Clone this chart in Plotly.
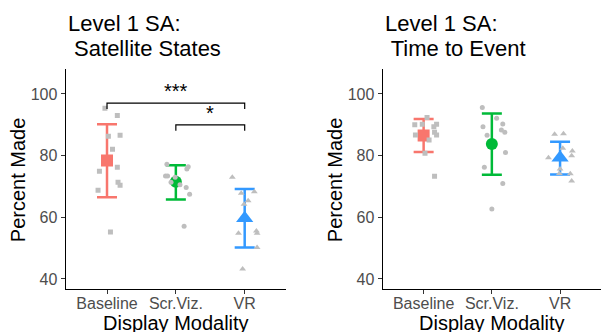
import plotly.graph_objects as go

categories = ["Baseline", "Scr.Viz.", "VR"]
colors = ["#F8766D", "#00BA38", "#3399FF"]
symbols = ["square", "circle", "triangle-up"]
y_ticks = [40, 60, 80, 100]

# Panel 1: Satellite States -- individual participant values and jitter offsets
ss_baseline = [95.4, 93.0, 86.3, 86.6, 82.1, 74.9, 76.2, 71.4, 70.4, 68.8, 55.2]
ss_baseline_jit = [-0.03, 0.15, 0.02, 0.19, 0.08, -0.11, 0.15, 0.16, 0.19, -0.13, 0.05]
ss_scrviz = [77.2, 76.4, 75.7, 73.4, 73.4, 73.0, 71.4, 70.6, 69.7, 67.5, 57.1]
ss_scrviz_jit = [-0.13, 0.18, 0.16, -0.15, -0.12, -0.01, -0.07, 0.06, 0.15, 0.20, 0.12]
ss_vr = [73.0, 67.8, 68.3, 65.4, 64.2, 54.8, 55.6, 54.8, 50.2, 43.2]
ss_vr_jit = [-0.18, -0.05, 0.14, 0.05, -0.01, -0.09, 0.17, 0.18, 0.18, -0.03]
ss_means = [78.4, 71.5, 59.7]
ss_upper = [90.2, 76.9, 69.2]
ss_lower = [66.5, 65.8, 50.2]

# Panel 2: Time to Event
tte_baseline = [92.4, 90.0, 90.2, 90.2, 89.4, 86.7, 87.6, 86.7, 85.1, 80.8, 73.3]
tte_baseline_jit = [0.05, -0.13, -0.02, 0.19, 0.15, -0.12, 0.16, 0.19, 0.08, 0.02, 0.16]
tte_scrviz = [95.6, 92.1, 89.4, 90.3, 86.6, 88.3, 87.6, 81.0, 76.2, 71.0, 62.7]
tte_scrviz_jit = [-0.14, 0.07, -0.13, 0.16, -0.07, 0.14, 0.19, 0.20, -0.11, 0.16, 0.0]
tte_vr = [86.9, 87.1, 82.4, 81.5, 79.3, 80.0, 75.7, 74.2, 74.1, 71.8]
tte_vr_jit = [-0.08, 0.05, 0.04, 0.18, -0.17, 0.17, 0.0, -0.01, 0.15, 0.17]
tte_means = [86.5, 83.8, 79.3]
tte_upper = [91.9, 93.7, 84.5]
tte_lower = [81.2, 73.8, 73.9]

# Significance brackets (panel 1): from category, to category, bar height, tick drop, label
sig_from = [1, 2]
sig_to = [3, 3]
sig_height = [97.0, 90.0]
sig_drop = [1.9, 1.9]
sig_labels = ["***", "*"]

titles = [["Level 1 SA:", " Satellite States"], ["Level 1 SA:", " Time to Event"]]
x_title = "Display Modality"
y_title = "Percent Made"

FONT = "Liberation Sans, Arial, sans-serif"
W, H = 601, 332

fig = go.Figure()

panels = [
    ("x", "y", [ss_baseline, ss_scrviz, ss_vr], [ss_baseline_jit, ss_scrviz_jit, ss_vr_jit],
     ss_means, ss_upper, ss_lower),
    ("x2", "y2", [tte_baseline, tte_scrviz, tte_vr], [tte_baseline_jit, tte_scrviz_jit, tte_vr_jit],
     tte_means, tte_upper, tte_lower),
]

for xa, ya, vals, jits, means, upper, lower in panels:
    for i, cat in enumerate(categories):
        pos = i + 1
        fig.add_trace(go.Scatter(
            x=[pos], y=[means[i]], xaxis=xa, yaxis=ya, mode="markers",
            marker=dict(symbol=symbols[i], color=colors[i],
                        size=15 if symbols[i] == "triangle-up" else 12, line=dict(width=0)),
            error_y=dict(type="data", array=[upper[i] - means[i]],
                         arrayminus=[means[i] - lower[i]], color=colors[i],
                         thickness=2.5, width=10),
            showlegend=False, hoverinfo="skip"))
    for i, cat in enumerate(categories):
        pos = i + 1
        fig.add_trace(go.Scatter(
            x=[pos + j for j in jits[i]], y=vals[i], xaxis=xa, yaxis=ya, mode="markers",
            marker=dict(symbol=symbols[i], color="#BEBEBE",
                        size=6 if symbols[i] == "triangle-up" else 5, line=dict(width=0)),
            showlegend=False, hoverinfo="skip"))

# significance brackets
for a, b, h, d, lab in zip(sig_from, sig_to, sig_height, sig_drop, sig_labels):
    fig.add_trace(go.Scatter(
        x=[a, a, b, b], y=[h - d, h, h, h - d], xaxis="x", yaxis="y", mode="lines",
        line=dict(color="black", width=1.2), showlegend=False, hoverinfo="skip"))
    fig.add_annotation(x=(a + b) / 2, y=h, xref="x", yref="y", text=lab, showarrow=False,
                       yanchor="bottom", yshift=-1, font=dict(family=FONT, size=20, color="black"))

dom1 = [65.7 / W, 286 / W]
dom2 = [382.7 / W, 1.0]
ydom = [1 - 288.7 / H, 1 - 69.3 / H]

axis_common = dict(showline=True, linecolor="black", linewidth=1.3, ticks="outside",
                   ticklen=4, tickcolor="#333333", tickwidth=1, showgrid=False, zeroline=False,
                   tickfont=dict(family=FONT, size=16, color="#4D4D4D"))

fig.update_layout(
    width=W, height=H, margin=dict(l=0, r=0, t=0, b=0),
    plot_bgcolor="white", paper_bgcolor="white",
    xaxis=dict(domain=dom1, range=[0.4, 3.6], tickvals=[1, 2, 3], ticktext=categories,
               anchor="y", ticklabelstandoff=-4, **axis_common),
    yaxis=dict(domain=ydom, range=[36.85, 108.0], tickvals=y_ticks, anchor="x", **axis_common),
    xaxis2=dict(domain=dom2, range=[0.4, 3.6], tickvals=[1, 2, 3], ticktext=categories,
                anchor="y2", ticklabelstandoff=-4, **axis_common),
    yaxis2=dict(domain=ydom, range=[36.85, 108.0], tickvals=y_ticks, anchor="x2", **axis_common),
)

# titles and axis titles
for k, (dom, lines) in enumerate(zip([dom1, dom2], titles)):
    left_px = dom[0] * W + 0.5
    for li, txt in enumerate(lines):
        fig.add_annotation(x=left_px / W, y=1 - (23.7 + 25 * li) / H, xref="paper", yref="paper",
                           text=txt, showarrow=False, xanchor="left", yanchor="middle",
                           font=dict(family=FONT, size=22, color="black"))
    cx = (dom[0] + dom[1]) / 2 if k == 0 else (dom[0] * W + 601) / 2 / W
    fig.add_annotation(x=cx, y=1 - 322.5 / H, xref="paper", yref="paper", text=x_title,
                       showarrow=False, xanchor="center", yanchor="middle",
                       font=dict(family=FONT, size=20, color="black"))
    fig.add_annotation(x=(dom[0] * W - 47.5) / W, y=1 - 180 / H, xref="paper", yref="paper",
                       text=y_title, showarrow=False, textangle=-90, xanchor="center",
                       yanchor="middle", font=dict(family=FONT, size=20, color="black"))

fig.write_html("out.html")
